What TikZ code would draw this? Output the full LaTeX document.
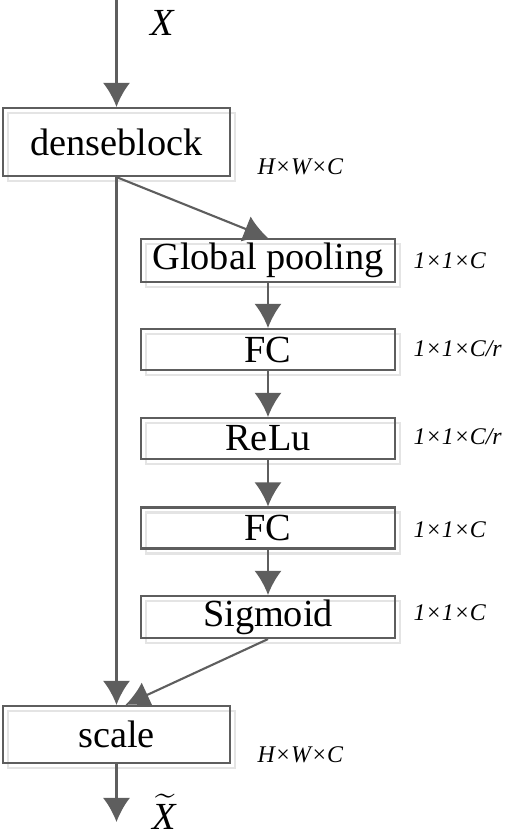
\documentclass[tikz,border=0pt]{standalone}
\usepackage{fontspec}
\setmainfont{Liberation Serif}
\usetikzlibrary{arrows.meta,shadows}

\definecolor{linegray}{HTML}{5E5E5E}
\definecolor{ghostgray}{HTML}{E4E4E4}

\tikzset{
	blk/.style={draw=linegray, line width=0.6pt, fill=none, inner sep=0pt,
		font=\fontsize{10.9}{13}\selectfont,
		copy shadow={shadow xshift=0.05cm, shadow yshift=-0.05cm, draw=ghostgray, fill=none, line width=0.6pt}},
	dimlbl/.style={font=\fontsize{6.8}{8}\selectfont\itshape, anchor=west, inner sep=0pt},
	flow/.style={draw=linegray, line width=0.6pt, -{Latex[length=0.24cm,width=0.27cm]}}
}

\begin{document}
\begin{tikzpicture}[x=0.01cm, y=-0.01cm]
	\useasboundingbox (0,0) rectangle (506,835);
	
	%%% Блоки
	\node[blk, minimum width=2.27cm, minimum height=0.68cm] (dense) at (116.5,142) {denseblock};
	\node[blk, minimum width=2.54cm, minimum height=0.43cm] (pool) at (268,260.5) {Global pooling};
	\node[blk, minimum width=2.54cm, minimum height=0.41cm] (fca) at (268,349.5) {FC};
	\node[blk, minimum width=2.54cm, minimum height=0.41cm] (relu) at (268,438.5) {ReLu};
	\node[blk, minimum width=2.54cm, minimum height=0.41cm] (fcb) at (268,528) {FC};
	\node[blk, minimum width=2.54cm, minimum height=0.42cm] (sig) at (268,617) {Sigmoid};
	\node[blk, minimum width=2.27cm, minimum height=0.57cm] (scale) at (116.5,734.5) {scale};
	
	\coordinate (in) at (116.5,0);
	\coordinate (out) at (116.5,822);
	
	%%% Стрелки
	\draw[flow] (in) -- (dense);
	\draw[flow] (dense.south) -- (pool.north);
	\draw[flow] (dense.south) -- (scale.north);
	\draw[flow] (pool) -- (fca);
	\draw[flow] (fca) -- (relu);
	\draw[flow] (relu) -- (fcb);
	\draw[flow] (fcb) -- (sig);
	\draw[flow] (sig.south) -- ([xshift=0.09cm]scale.north);
	\draw[flow] (scale) -- (out);
	
	%%% Подписи
	\node[anchor=base, inner sep=0pt, font=\fontsize{10.9}{13}\selectfont] (xin) at (163,35) {\textit{X}};
	\node[anchor=base, inner sep=0pt, font=\fontsize{10.9}{13}\selectfont] (xout) at (165,829) {$\widetilde{\mbox{\textit{X}}}$};
	
	\node[dimlbl] (ddense) at (257,167) {H×W×C};
	\node[dimlbl] (dpool) at (413,261) {1×1×C};
	\node[dimlbl] (dfca) at (413,349) {1×1×C/r};
	\node[dimlbl] (drelu) at (413,437) {1×1×C/r};
	\node[dimlbl] (dfcb) at (413,530) {1×1×C};
	\node[dimlbl] (dsig) at (413,613) {1×1×C};
	\node[dimlbl] (dscale) at (257,755) {H×W×C};
\end{tikzpicture}
\end{document}
